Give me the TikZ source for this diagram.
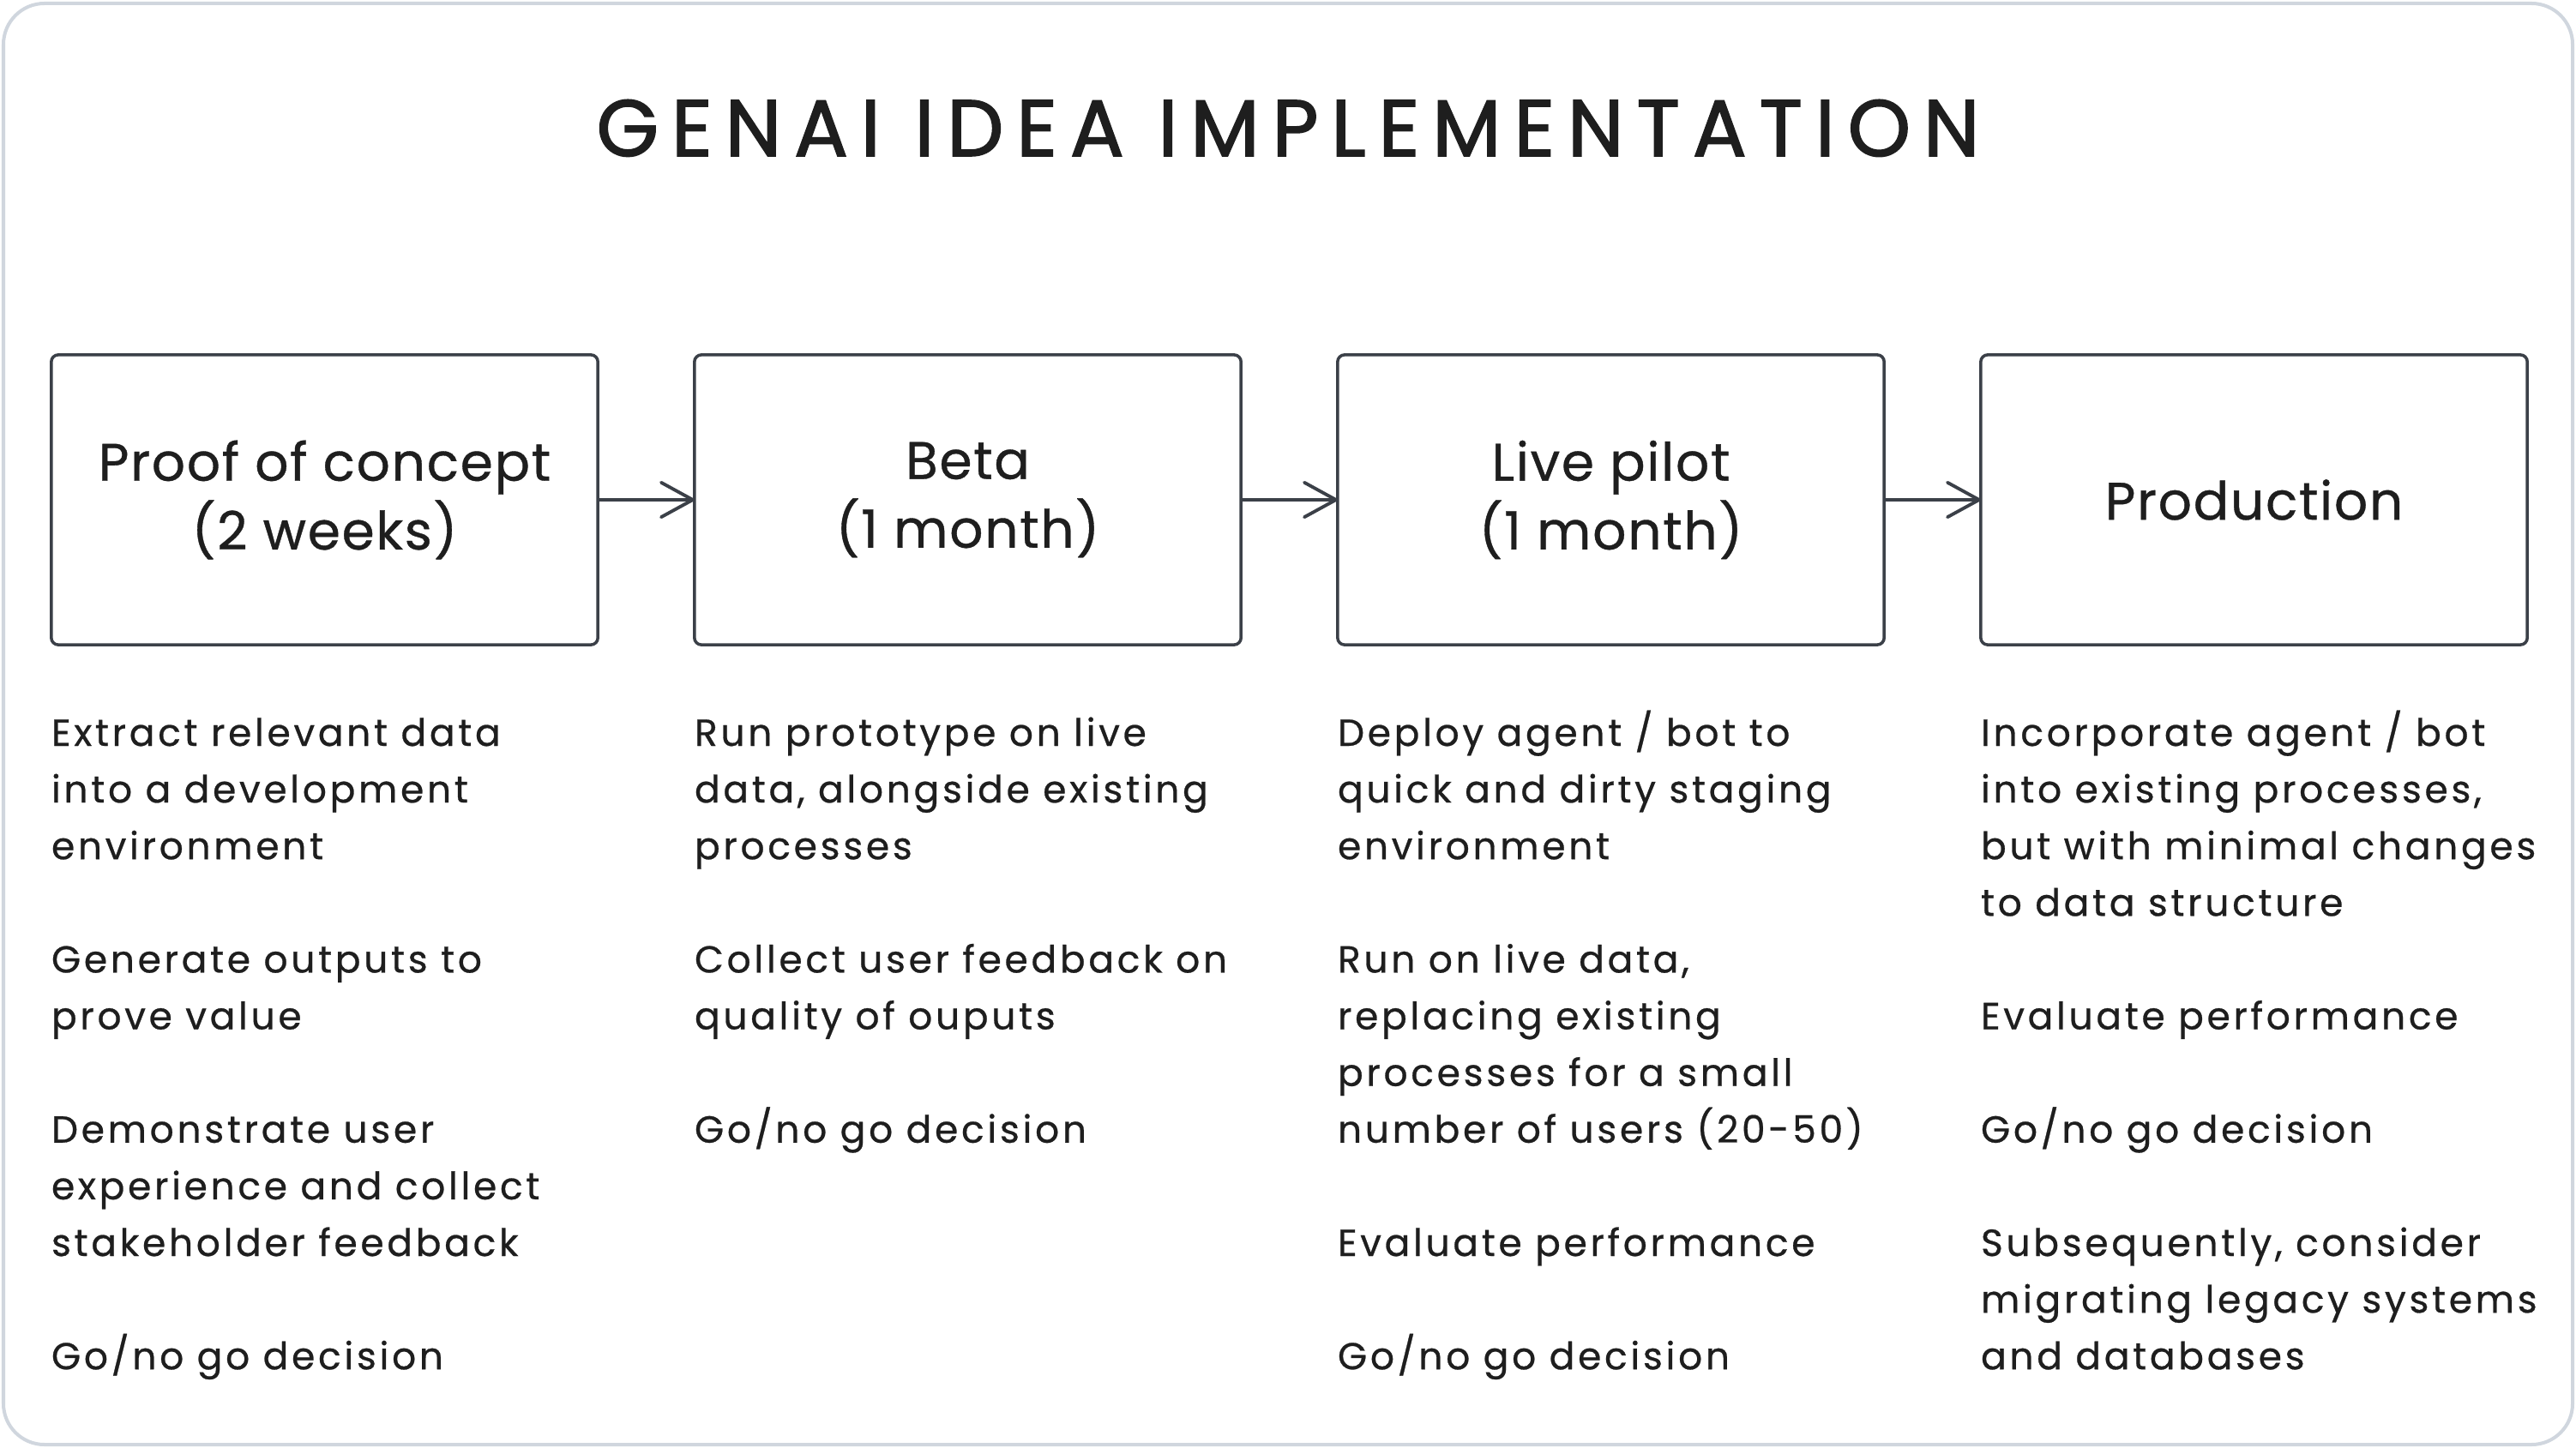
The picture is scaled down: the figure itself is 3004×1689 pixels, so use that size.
\documentclass[tikz,border=0pt]{standalone}
\usepackage{fontspec}
\setmainfont{Poppins}
\newfontfamily\bodyfont{Poppins}[LetterSpace=8.4, FakeBold=0.6]
\newfontfamily\labelfont{Poppins}[LetterSpace=2.7, FakeBold=0.6]
\newfontfamily\headfont{Poppins}[LetterSpace=16, FakeBold=1.8]
\usetikzlibrary{arrows.meta}
\definecolor{strokec}{HTML}{3B4048}
\definecolor{framec}{HTML}{D0D6DE}
\definecolor{ink}{HTML}{1E1E1E}
\newcommand\pgap{\\[18.8pt]}
\tikzset{
  stagebox/.style={draw=strokec, line width=1pt, rounded corners=2.3pt,
    minimum width=6.37cm, minimum height=3.38cm, inner sep=0pt, outer sep=0pt,
    align=center, text=ink, font=\labelfont\fontsize{17.5pt}{22.8pt}\selectfont},
  flowarrow/.style={draw=strokec, line width=1.1pt,
    -{Straight Barb[length=10.5pt, width=11.5pt, round]}},
  bodytext/.style={inner sep=0pt, outer sep=0pt, anchor=base west, text=ink,
    font=\bodyfont\fontsize{12.5pt}{18.8pt}\selectfont},
  titletext/.style={inner sep=0pt, anchor=base, text=ink,
    font=\headfont\fontsize{26.5pt}{30pt}\selectfont}
}
\begin{document}
\begin{tikzpicture}[x=0.01cm, y=-0.01cm]
\useasboundingbox (0,0) rectangle (3004,1689);
\draw[framec, line width=1.14pt, rounded corners=13.6pt] (4,4) rectangle (3000,1685);

\node[titletext] (title) at (1502,182) {GENAI IDEA IMPLEMENTATION};

\node[stagebox] (b1) at (378.5,583) {Proof of concept\\(2 weeks)};
\node[stagebox] (b2) at (1128.5,583) {Beta\\(1 month)};
\node[stagebox] (b3) at (1878.5,583) {Live pilot\\(1 month)};
\node[stagebox] (b4) at (2628.5,583) {Production};

\draw[flowarrow] (b1.east) -- (b2.west);
\draw[flowarrow] (b2.east) -- (b3.west);
\draw[flowarrow] (b3.east) -- (b4.west);

\node[bodytext] (t1) at (60,870) {\parbox[t]{7cm}{\raggedright
Extract relevant data\\into a development\\environment\pgap
Generate outputs to\\prove value\pgap
Demonstrate user\\experience and collect\\stakeholder feedback\pgap
Go/no go decision}};

\node[bodytext] (t2) at (810,870) {\parbox[t]{7cm}{\raggedright
Run prototype on live\\data, alongside existing\\processes\pgap
Collect user feedback on\\quality of ouputs\pgap
Go/no go decision}};

\node[bodytext] (t3) at (1560,870) {\parbox[t]{7cm}{\raggedright
Deploy agent / bot to\\quick and dirty staging\\environment\pgap
Run on live data,\\replacing existing\\processes for a small\\number of users (20-50)\pgap
Evaluate performance\pgap
Go/no go decision}};

\node[bodytext] (t4) at (2310,870) {\parbox[t]{6.8cm}{\raggedright
Incorporate agent / bot\\into existing processes,\\but with minimal changes\\to data structure\pgap
Evaluate performance\pgap
Go/no go decision\pgap
Subsequently, consider\\migrating legacy systems\\and databases}};
\end{tikzpicture}
\end{document}
